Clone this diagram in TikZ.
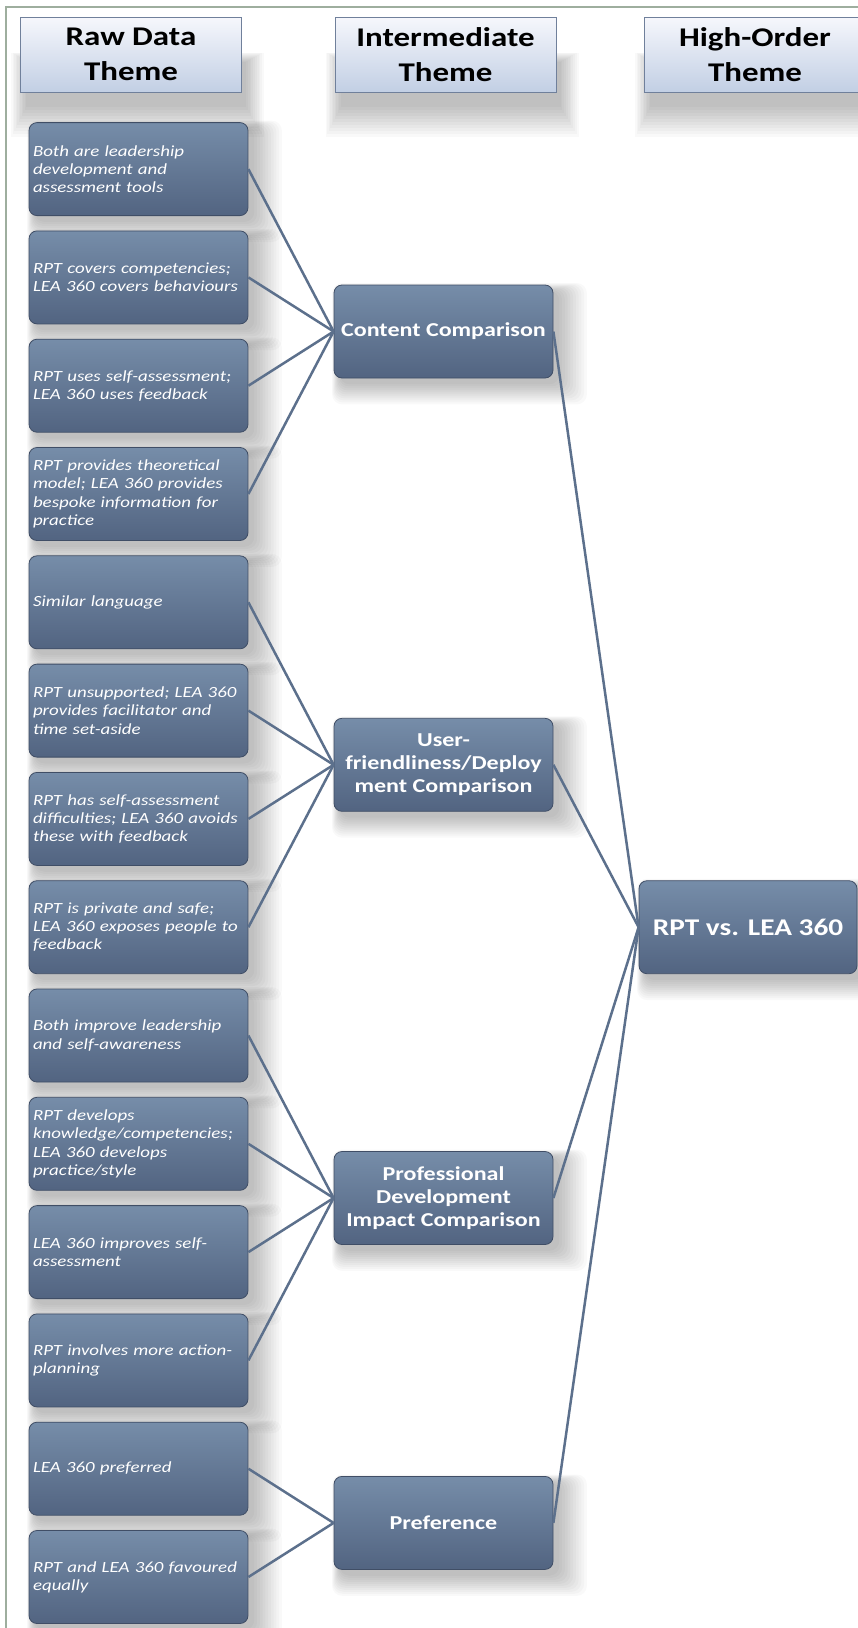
\documentclass[tikz,border=0pt]{standalone}
\usepackage{fontspec}
\setmainfont{Carlito}
\newfontfamily\cf[FakeStretch=1.22]{Carlito}
\usetikzlibrary{backgrounds}
\definecolor{boxtop}{RGB}{118,141,169}
\definecolor{boxbot}{RGB}{82,100,129}
\definecolor{boxline}{RGB}{64,78,102}
\definecolor{hdrtop}{RGB}{246,247,252}
\definecolor{hdrbot}{RGB}{194,207,228}
\definecolor{hdrline}{RGB}{112,128,155}
\definecolor{connc}{RGB}{92,112,140}
\definecolor{framec}{RGB}{158,174,158}
\begin{document}
\begin{tikzpicture}[x=1pt,y=-1pt,
  hdr/.style={draw=hdrline, line width=1pt, top color=hdrtop, bottom color=hdrbot,
    minimum width=221pt, minimum height=75pt, inner sep=0pt, align=center,
    font=\cf\fontsize{27}{35}\selectfont\bfseries, text=black},
  basebox/.style={draw=boxline, line width=0.8pt, rounded corners=8pt, top color=boxtop, bottom color=boxbot,
    minimum width=219pt, minimum height=93pt, text=white},
  rawbox/.style={basebox, text width=211pt, inner xsep=4pt, inner ysep=0pt, align=left,
    font=\cf\fontsize{15.5}{18.3}\selectfont\itshape},
  midbox/.style={basebox, inner sep=2pt, align=center, font=\cf\fontsize{19.7}{23.3}\selectfont\bfseries},
  topbox/.style={basebox, minimum width=218pt, inner sep=2pt, align=center, font=\cf\fontsize{24}{29}\selectfont\bfseries},
  connl/.style={draw=connc, line width=2.5pt},
  shadowstep/.style={fill=black, fill opacity=0.025, draw=none}
]
\useasboundingbox (0,0) rectangle (858,1628);

% headers
\node[hdr] (h1) at (131,54.5) {Raw Data\\Theme};
\node[hdr] (h2) at (445.5,54.5) {Intermediate\\Theme};
\node[hdr] (h3) at (755,54.5) {High-Order\\Theme};

% raw data boxes
\node[rawbox] (r1) at (138.5,169.1) {Both are leadership\\development and\\assessment tools};
\node[rawbox] (r2) at (138.5,277.4) {RPT covers competencies;\\LEA 360 covers behaviours};
\node[rawbox] (r3) at (138.5,385.7) {RPT uses self-assessment;\\LEA 360 uses feedback};
\node[rawbox] (r4) at (138.5,494.0) {RPT provides theoretical\\model; LEA 360 provides\\bespoke information for\\practice};
\node[rawbox] (r5) at (138.5,602.3) {Similar language};
\node[rawbox] (r6) at (138.5,710.6) {RPT unsupported; LEA 360\\provides facilitator and\\time set-aside};
\node[rawbox] (r7) at (138.5,818.9) {RPT has self-assessment\\difficulties; LEA 360 avoids\\these with feedback};
\node[rawbox] (r8) at (138.5,927.2) {RPT is private and safe;\\LEA 360 exposes people to\\feedback};
\node[rawbox] (r9) at (138.5,1035.5) {Both improve leadership\\and self-awareness};
\node[rawbox] (r10) at (138.5,1143.8) {RPT develops\\knowledge/competencies;\\LEA 360 develops\\practice/style};
\node[rawbox] (r11) at (138.5,1252.1) {LEA 360 improves self-\\assessment};
\node[rawbox] (r12) at (138.5,1360.4) {RPT involves more action-\\planning};
\node[rawbox] (r13) at (138.5,1468.7) {LEA 360 preferred};
\node[rawbox] (r14) at (138.5,1577.0) {RPT and LEA 360 favoured\\equally};

% intermediate boxes
\node[midbox] (m1) at (443.5,331.5) {Content Comparison};
\node[midbox] (m2) at (443.5,764.8) {User-\\friendliness/Deploy\\ment Comparison};
\node[midbox] (m3) at (443.5,1198.0) {Professional\\Development\\Impact Comparison};
\node[midbox] (m4) at (443.5,1522.9) {Preference};

% high-order box
\node[topbox] (t1) at (748,927.2) {RPT vs. LEA 360};

% background, frame and soft shadows
\begin{scope}[on background layer]
  \fill[white] (0,0) rectangle (858,1628);
  \foreach \n in {h1,h2,h3} {
    \foreach \e in {0,3,...,30} {
      \fill[shadowstep] ([xshift=6pt-0.5*\e pt, yshift=-14pt-\e pt]\n.south west)
        rectangle ([xshift=4pt+0.6*\e pt, yshift=-45pt+0.3*\e pt]\n.north east);
    }
  }
  \foreach \n in {r1,r2,r3,r4,r5,r6,r7,r8,r9,r10,r11,r12,r13,r14,m1,m2,m3,m4,t1} {
    \foreach \e in {0,2.5,...,25} {
      \fill[shadowstep, rounded corners=10pt] ([xshift=6pt-0.3*\e pt, yshift=-6pt-0.8*\e pt]\n.south west)
        rectangle ([xshift=6pt+1.1*\e pt, yshift=-6pt+0.3*\e pt]\n.north east);
    }
  }
  \draw[framec, line width=1.5pt] (858,7) -- (6,7) -- (6,1628);
\end{scope}

% connectors
\foreach \r in {r1,r2,r3,r4} \draw[connl] (\r.east) -- (m1.west);
\foreach \r in {r5,r6,r7,r8} \draw[connl] (\r.east) -- (m2.west);
\foreach \r in {r9,r10,r11,r12} \draw[connl] (\r.east) -- (m3.west);
\foreach \r in {r13,r14} \draw[connl] (\r.east) -- (m4.west);
\foreach \m in {m1,m2,m3,m4} \draw[connl] (\m.east) -- (t1.west);
\end{tikzpicture}
\end{document}
